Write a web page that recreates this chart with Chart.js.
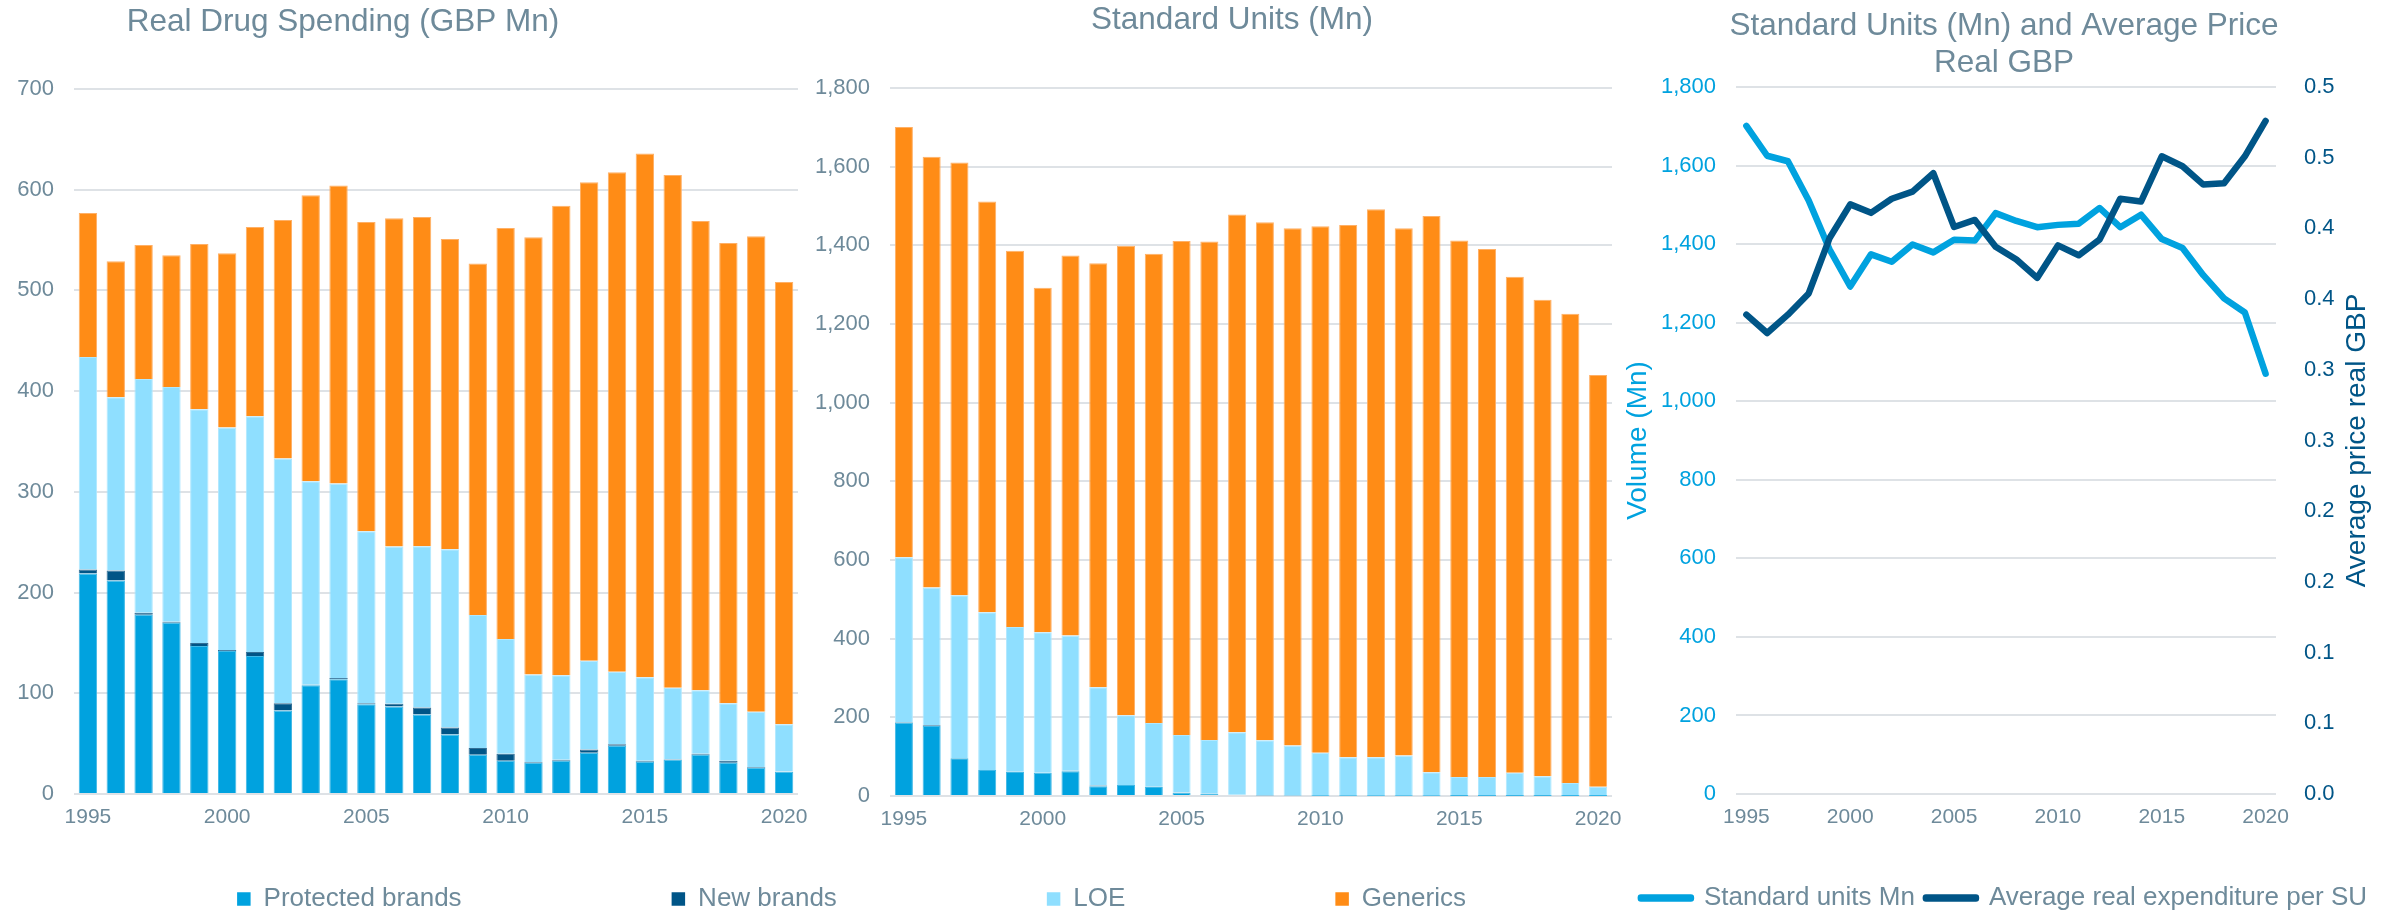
<!DOCTYPE html>
<html>
<head>
<meta charset="utf-8">
<script src="https://cdn.jsdelivr.net/npm/chart.js@4/dist/chart.umd.min.js"></script>
<style>
html,body{margin:0;padding:0;width:2394px;height:914px;overflow:hidden;background:#ffffff;}
canvas{position:absolute;display:block;}
</style>
</head>
<body>
<canvas id="c1" width="942" height="844" style="left:-112px;top:0px;width:942px;height:844px"></canvas>
<canvas id="c2" width="920" height="846" style="left:780px;top:0px;width:920px;height:846px"></canvas>
<canvas id="c3" width="840" height="921" style="left:1600px;top:0px;width:840px;height:921px"></canvas>
<canvas id="cl" width="1703" height="520" style="left:0px;top:676px;width:1703px;height:520px"></canvas>
<script>
// ---------- data ----------
const years = ['1995','1996','1997','1998','1999','2000','2001','2002','2003','2004','2005','2006','2007',
               '2008','2009','2010','2011','2012','2013','2014','2015','2016','2017','2018','2019','2020'];

// Real drug spending (GBP Mn)
const spendProtected = [219,212,178,170,147,142,137,83,108,114,89,87,79,59,39,33,31,33,41,48,32,34,39,31,26,22];
const spendNew       = [4,10,2,1,3,1,4,7,0.5,1.3,1,2.7,7,7,6.7,7,0.7,1,3.3,1.3,1,0.6,1,2,0.7,0.3];
const spendLOE       = [211,172,232,233,232,221,234,243,202,193,171,156,160,177,132,114,87,84,88,72,83,71,63,57,55,47];
const spendGenerics  = [143,135,133,131,164,173,188,237,284,296,307,326,327,308,349,408,434,466,475,496,520,509,466,457,472,439];

// Standard units (Mn)
const unitsProtected = [187,178,96,66,61,59,63,25,28,23,8.5,5,3,1.5,1,0.5,0.5,0.5,0.5,0.5,0.3,0.3,0.3,0.3,0.2,0.2];
const unitsNew       = [1,2,0.5,0.3,0.5,0.3,1,1.5,0.2,0.3,0.3,0.5,0.3,0.2,0.2,0.2,0.1,0.1,0.2,0.1,0.1,0.1,0.1,0.1,0.1,0.1];
const unitsLOE       = [419,350,414,401,368,357,344,250,177,162,146,137,159,140,127,109,98,98,102,60,48,48,59,50,33,23];
const unitsGenerics  = [1094,1095,1100,1044,957,876,966,1078,1194,1193,1256,1267,1316,1317,1315,1339,1353,1393,1341,1414,1364,1342,1261,1211,1193,1047];

// Line panel
const standardUnits = [1701,1625,1611,1511,1387,1292,1374,1355,1399,1379,1411,1409,1479,1459,1443,1449,1452,1492,1443,1475,1413,1390,1321,1262,1226,1070];
const avgPrice      = [0.339,0.326,0.339,0.354,0.393,0.417,0.411,0.421,0.426,0.439,0.401,0.406,0.387,0.378,0.365,0.388,0.381,0.392,0.421,0.419,0.451,0.444,0.431,0.432,0.451,0.476];

const barSeriesNames  = ['Protected brands','New brands','LOE','Generics'];
const lineSeriesNames = ['Standard units Mn','Average real expenditure per SU'];
const titles = {
  spend: 'Real Drug Spending (GBP Mn)',
  units: 'Standard Units (Mn)',
  line: ['Standard Units (Mn) and Average Price', 'Real GBP']
};
const axisTitles = { volume: 'Volume (Mn)', price: 'Average price real GBP' };

// ---------- styles ----------
const FF = '"Liberation Sans", Arial, sans-serif';
const TXT = '#6E8A9A';
const GRID = '#DEE2E6';
const C_PROT = '#00A2DF';
const C_NEW = '#005587';
const C_LOE = '#8FDFFF';
const C_GEN = '#FF8C16';
const barColors = [C_PROT, C_NEW, C_LOE, C_GEN];
const barEdgeColors = ['#40B8E6', '#336F96', '#B0E8FF', '#FFB066'];

Chart.defaults.font.family = FF;
Chart.defaults.color = TXT;

function yearTickCallback(v) {
  const l = this.getLabelForValue(v);
  return (+l) % 5 === 0 ? l : '';
}
const xTicks = {color: TXT, font: {size: 21, family: FF}, padding: 3, autoSkip: false, maxRotation: 0, minRotation: 0, callback: yearTickCallback};

function stackedBarConfig(series, title, yMax, yStep, yWidth, padR, spacerWidth, titlePadTop, titlePadBottom, barPct) {
  const scales = {
    x: {stacked: true, grid: {display: false}, border: {display: false}, ticks: xTicks,
        afterFit(s) { s.height = 50; }},
    y: {stacked: true, min: 0, max: yMax,
        ticks: {stepSize: yStep, color: TXT, font: {size: 22, family: FF}, padding: 20,
                callback: v => Number(v).toLocaleString('en-US')},
        grid: {color: GRID, lineWidth: 2, drawTicks: false},
        border: {display: false},
        afterFit(s) { s.width = yWidth; }}
  };
  if (spacerWidth > 0) {
    // empty right-hand box that only shifts the centred title
    scales.spacer = {type: 'linear', position: 'right', display: true,
                     ticks: {display: false}, grid: {display: false}, border: {display: false},
                     afterFit(s) { s.width = spacerWidth; }};
  }
  return {
    type: 'bar',
    data: {
      labels: years,
      datasets: series.map((d, i) => ({
        label: barSeriesNames[i], data: d, backgroundColor: barColors[i],
        borderColor: barEdgeColors[i], borderWidth: 1, borderSkipped: 'start', yAxisID: 'y'
      }))
    },
    options: {
      responsive: false, animation: false,
      layout: {padding: {left: 0, right: padR, top: 0, bottom: 0}},
      datasets: {bar: {barPercentage: barPct, categoryPercentage: 1}},
      plugins: {
        legend: {display: false},
        tooltip: {enabled: false},
        title: {display: true, text: title, color: TXT,
                font: {size: 31.5, family: FF, weight: 'normal', lineHeight: 1.2},
                padding: {top: titlePadTop, bottom: titlePadBottom}}
      },
      scales: scales
    }
  };
}

new Chart(document.getElementById('c1'),
  stackedBarConfig([spendProtected, spendNew, spendLOE, spendGenerics], titles.spend, 700, 100, 186, 32, 0, 3.4, 47.8, 0.66));
new Chart(document.getElementById('c2'),
  stackedBarConfig([unitsProtected, unitsNew, unitsLOE, unitsGenerics], titles.units, 1800, 200, 110, 16, 72, 1.8, 48.4, 0.65));

// right axis title drawn bottom-to-top like the original
const rightAxisTitle = {
  id: 'rightAxisTitle',
  afterDraw(chart) {
    const s = chart.scales.y2;
    const ctx = chart.ctx;
    const a = chart.chartArea;
    ctx.save();
    ctx.translate(s.right - 51, (a.top + a.bottom) / 2);
    ctx.rotate(-Math.PI / 2);
    ctx.textAlign = 'center';
    ctx.textBaseline = 'middle';
    ctx.font = '28px ' + FF;
    ctx.fillStyle = C_NEW;
    ctx.fillText(axisTitles.price, 0, 0);
    ctx.restore();
  }
};

new Chart(document.getElementById('c3'), {
  type: 'line',
  data: {
    labels: years,
    datasets: [
      {label: lineSeriesNames[0], data: standardUnits, yAxisID: 'y', borderColor: C_PROT, backgroundColor: C_PROT,
       borderWidth: 6.5, pointRadius: 0, tension: 0, borderJoinStyle: 'round', borderCapStyle: 'round', order: 1},
      {label: lineSeriesNames[1], data: avgPrice, yAxisID: 'y2', borderColor: C_NEW, backgroundColor: C_NEW,
       borderWidth: 6.5, pointRadius: 0, tension: 0, borderJoinStyle: 'round', borderCapStyle: 'round', order: 0}
    ]
  },
  options: {
    responsive: false, animation: false,
    layout: {padding: {left: 0, right: 32, top: 0, bottom: 0}},
    plugins: {
      tooltip: {enabled: false},
      title: {display: true, text: titles.line, color: TXT,
              font: {size: 31.5, family: FF, weight: 'normal', lineHeight: 1.159},
              padding: {top: 8.25, bottom: 5.75}},
      legend: {display: true, position: 'bottom', align: 'center',
               labels: {boxWidth: 50, boxHeight: 1, padding: 11, color: TXT, font: {size: 26, family: FF},
                        sort: (a, b) => a.datasetIndex - b.datasetIndex}}
    },
    scales: {
      x: {offset: true, grid: {display: false}, border: {display: false}, ticks: xTicks,
          afterFit(s) { s.height = 80; }},
      y: {position: 'left', min: 0, max: 1800,
          ticks: {stepSize: 200, color: C_PROT, font: {size: 22, family: FF}, padding: 20,
                  callback: v => Number(v).toLocaleString('en-US')},
          grid: {color: GRID, lineWidth: 2, drawTicks: false},
          border: {display: false},
          title: {display: true, text: axisTitles.volume, color: C_PROT,
                  font: {size: 28, family: FF, lineHeight: 1.2}, padding: {top: 21, bottom: 0}},
          afterFit(s) { s.width = 136; }},
      y2: {position: 'right', min: 0, max: 0.5,
           ticks: {stepSize: 0.05, color: C_NEW, font: {size: 22, family: FF}, padding: 20,
                   callback: v => (Math.round(v * 10 + 1e-9) / 10).toFixed(1)},
           grid: {display: false, drawOnChartArea: false},
           border: {display: false},
           afterFit(s) { s.width = 132; }}
    }
  },
  plugins: [rightAxisTitle]
});

// shared legend of the two bar panels
new Chart(document.getElementById('cl'), {
  type: 'bar',
  data: {
    labels: [],
    datasets: barSeriesNames.map((n, i) => ({label: n, data: [], backgroundColor: barColors[i], borderWidth: 0}))
  },
  options: {
    responsive: false, animation: false,
    plugins: {
      tooltip: {enabled: false},
      title: {display: false},
      legend: {display: true, position: 'top', align: 'center',
               labels: {boxWidth: 13.5, boxHeight: 13.5, padding: 210, color: TXT, font: {size: 26, family: FF}}}
    },
    scales: {x: {display: false}, y: {display: false}}
  }
});
</script>
</body>
</html>
